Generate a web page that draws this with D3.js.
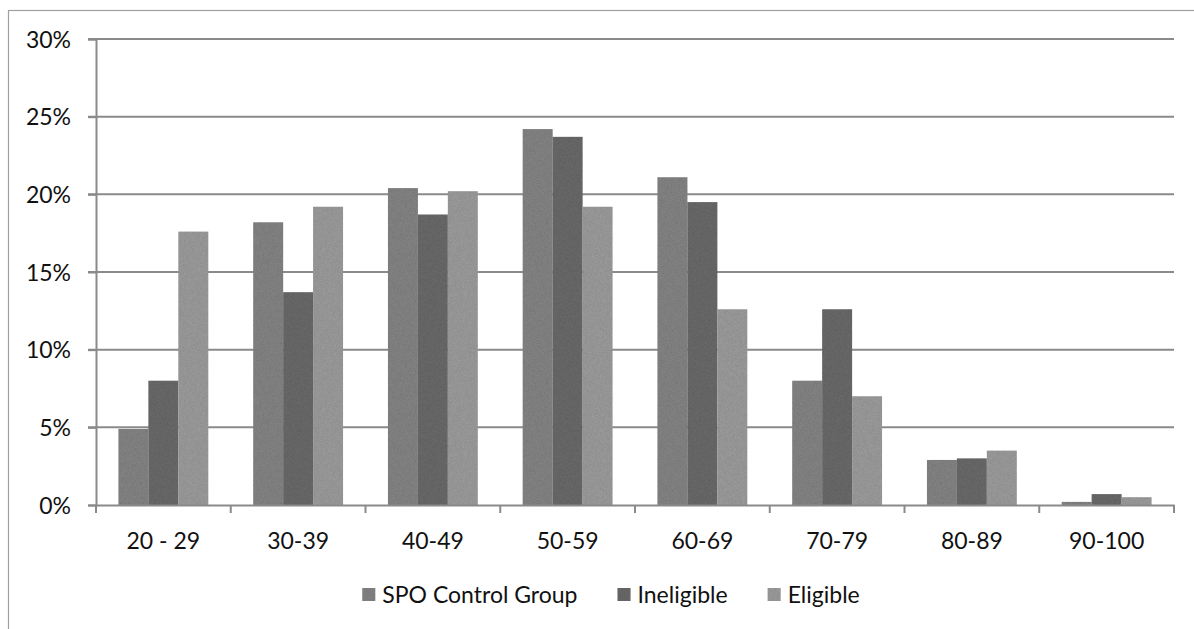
<!DOCTYPE html>
<html><head><meta charset="utf-8">
<script src="https://cdn.jsdelivr.net/npm/d3@7/dist/d3.min.js"></script>
<style>body{margin:0;background:#fff}svg{display:block}</style>
</head><body>
<script>
const categories = ["20 - 29","30-39","40-49","50-59","60-69","70-79","80-89","90-100"];
const seriesNames = ["SPO Control Group","Ineligible","Eligible"];
const spoControl = [4.9, 18.2, 20.4, 24.2, 21.1, 8.0, 2.9, 0.2];
const ineligible = [8.0, 13.7, 18.7, 23.7, 19.5, 12.6, 3.0, 0.7];
const eligible   = [17.6, 19.2, 20.2, 19.2, 12.6, 7.0, 3.5, 0.5];
const yTicks = [0, 5, 10, 15, 20, 25, 30];

(function () {
const seriesValues = [spoControl, ineligible, eligible];
const colors = ["#898989", "#6e6e6e", "#a2a2a2"];

const W = 1194, H = 629;
const svg = d3.select("body").append("svg").attr("width", W).attr("height", H);
const font = "Lato, 'Open Sans', sans-serif";
const fs = 23;

const defs = svg.append("defs");
colors.forEach((c, i) => {
  const f = defs.append("filter").attr("id", "n" + i).attr("x", 0).attr("y", 0).attr("width", 1).attr("height", 1);
  f.append("feTurbulence").attr("type", "fractalNoise").attr("baseFrequency", 1.6).attr("numOctaves", 1).attr("seed", i + 3).attr("result", "t");
  f.append("feColorMatrix").attr("in", "t").attr("type", "matrix")
    .attr("values", "0 0 0 0 0  0 0 0 0 0  0 0 0 0 0  0 0 0 0.35 0").attr("result", "a");
  f.append("feComposite").attr("in", "a").attr("in2", "SourceGraphic").attr("operator", "in").attr("result", "b");
  const m = f.append("feMerge");
  m.append("feMergeNode").attr("in", "SourceGraphic");
  m.append("feMergeNode").attr("in", "b");
});

svg.append("rect").attr("x", 8.5).attr("y", 10.5).attr("width", 1200).attr("height", 640)
  .attr("fill", "none").attr("stroke", "#a0a0a0").attr("stroke-width", 1.2);

const pLeft = 96, pRight = 1174, pTop = 39, pBottom = 505;
const x = d3.scaleBand().domain(categories).range([pLeft, pRight]).paddingInner(0).paddingOuter(0);
const y = d3.scaleLinear().domain([0, 30]).range([pBottom, pTop]);
const inner = d3.scaleBand().domain(seriesNames).range([0, x.bandwidth()]).paddingInner(0).paddingOuter(0.75);

svg.append("g").selectAll("line").data(yTicks.filter(t => t > 0)).join("line")
  .attr("x1", pLeft - 8).attr("x2", pRight).attr("y1", d => y(d)).attr("y2", d => y(d))
  .attr("stroke", "#8a8a8a").attr("stroke-width", 2);

const g = svg.append("g");
seriesNames.forEach((s, si) => {
  g.append("g").selectAll("rect").data(categories).join("rect")
    .attr("x", c => x(c) + inner(s))
    .attr("width", inner.bandwidth())
    .attr("y", (c, i) => y(seriesValues[si][i]))
    .attr("height", (c, i) => y(0) - y(seriesValues[si][i]))
    .attr("fill", colors[si]).attr("filter", `url(#n${si})`);
});

const yAxis = d3.axisLeft(y).tickValues(yTicks).tickSize(8).tickFormat(d => d + "%");
const ya = svg.append("g").attr("transform", `translate(${pLeft},0)`).call(yAxis);
ya.select(".domain").attr("stroke", "#8a8a8a").attr("stroke-width", 2);
ya.selectAll(".tick line").attr("stroke", "#8a8a8a").attr("stroke-width", 2);
ya.selectAll(".tick text").attr("x", -25).attr("dy", "0.35em").attr("font-family", font).attr("font-size", fs).attr("fill", "#111");

const xAxis = d3.axisBottom(x).tickSize(0).tickSizeOuter(0);
const xa = svg.append("g").attr("transform", `translate(0,${pBottom})`).call(xAxis);
xa.select(".domain").attr("stroke", "#8a8a8a").attr("stroke-width", 2);
xa.selectAll(".tick text").attr("dy", 0).attr("y", 44).attr("font-family", font).attr("font-size", fs).attr("fill", "#111");
svg.append("g").selectAll("line").data(d3.range(categories.length + 1)).join("line")
  .attr("x1", i => pLeft + i * x.step()).attr("x2", i => pLeft + i * x.step())
  .attr("y1", pBottom).attr("y2", pBottom + 8).attr("stroke", "#8a8a8a").attr("stroke-width", 2);

const lg = svg.append("g");
const items = lg.selectAll("g").data(seriesNames).join("g");
items.append("rect").attr("width", 13).attr("height", 13).attr("y", -15)
  .attr("fill", (d, i) => colors[i]).attr("filter", (d, i) => `url(#n${i})`);
items.append("text").attr("x", 20).attr("y", 0).attr("font-family", font).attr("font-size", fs).attr("fill", "#111").text(d => d);
const widths = [];
items.each(function () { widths.push(20 + this.querySelector("text").getComputedTextLength()); });
const gap = 40;
const total = d3.sum(widths) + gap * (widths.length - 1);
let start = 611 - total / 2;
items.attr("transform", (d, i) => { const t = `translate(${start},603)`; start += widths[i] + gap; return t; });
})();
</script>
</body></html>
